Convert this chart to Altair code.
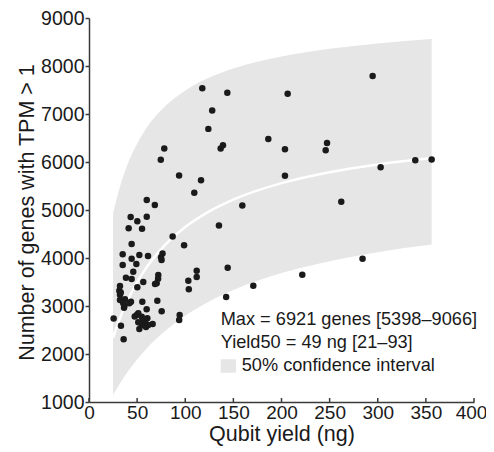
import altair as alt
import pandas as pd

# ---- scatter data (Qubit yield in ng, genes with TPM > 1) ----
qubit_ng = [117.7, 128, 124, 136.8, 139.2, 78.2, 74.6, 93.6, 116.4, 109.4,
            60, 68.4, 43.3, 60, 50.2, 41.2, 55.1, 86.9, 44.3, 98.8,
            143.7, 159.3, 135, 294.7, 206.4, 186.3, 203.6, 247.3, 245.9, 203.6,
            262.1, 284.2, 303, 339, 356, 144.1, 142.5, 170.7, 221.6,
            76.4, 74.8, 75.4, 111.9, 111.9, 103.2, 103.7, 72, 71.8, 70.3, 68.6,
            71, 75.5, 94.2, 93.7, 66.1,
            35, 52.3, 61.3, 44.3, 35, 49.2, 46, 38.4, 44.3, 56.4,
            50.2, 32.2, 31.5, 32.2, 37.4, 35.6, 43.6, 55.4, 36.4, 59.9,
            49.6, 33.2, 25.6, 36, 59.2, 52.3, 60.6, 61.6,
            51.2, 54.8, 58.2, 54.8, 51.2, 47.5, 56.5, 33, 32.2, 36.7, 41.9]
genes = [7535, 7075, 6690, 6280, 6348, 6280, 6048, 5720, 5622, 5357,
         5208, 5104, 4854, 4860, 4764, 4618, 4611, 4448, 4292, 4264,
         7444, 5095, 4677, 7792, 7423, 6479, 6264, 6396, 6244, 5712,
         5170, 3982, 5890, 6035, 6050, 3795, 3188, 3423, 3652,
         4095, 4015, 3960, 3732, 3604, 3527, 3348, 3646, 3570, 3473, 3458,
         3107, 2890, 2813, 2708, 2625,
         4077, 4063, 4042, 3986, 3854, 3875, 3715, 3590, 3563, 3500,
         3390, 3417, 3319, 3235, 3140, 3056, 3090, 3090, 2965, 2931,
         2813, 2590, 2740, 2306, 2563, 2521, 2744, 2604,
         2848, 2777, 2673, 2604, 2660, 2780, 2720, 3280, 3125, 3000, 3056]

# ---- fitted curve and 50% confidence band ----
fit_x = [25, 30, 35, 40, 50, 60, 75, 100, 125, 150, 200, 250, 300, 356]
fit_y = [2338, 2628, 2890, 3111, 3495, 3810, 4186, 4645, 4972, 5217, 5559, 5787, 5949, 6084]
ci_upper = [4930, 5330, 5670, 5950, 6380, 6720, 7080, 7490, 7760, 7950, 8200, 8360, 8470, 8560]
ci_lower = [1144, 1317, 1476, 1623, 1887, 2117, 2410, 2797, 3095, 3332, 3685, 3934, 4121, 4280]

x_ticks = [0, 50, 100, 150, 200, 250, 300, 350, 400]
y_ticks = [1000, 2000, 3000, 4000, 5000, 6000, 7000, 8000, 9000]

x_title = "Qubit yield (ng)"
y_title = "Number of genes with TPM > 1"
legend_lines = ["Max = 6921 genes [5398–9066]", "Yield50 = 49 ng [21–93]"]
ci_label = "50% confidence interval"

FONT = "Liberation Sans"
INK = "#1a1a1a"
AXC = "#3a3a3a"
W, H = 385, 384

pts = pd.DataFrame({"x": qubit_ng, "y": genes})
band_df = pd.DataFrame({"x": fit_x, "fit": fit_y, "upper": ci_upper, "lower": ci_lower})
xt_df = pd.DataFrame({"x": x_ticks})

xs = alt.Scale(domain=[0, 400], nice=False, zero=False)
ys = alt.Scale(domain=[1000, 9000], nice=False, zero=False)

x_axis = alt.Axis(values=x_ticks, format="d", title=x_title, grid=False, tickSize=0,
                  labelPadding=1, labelFontSize=19, labelFont=FONT, labelColor=INK,
                  labelFlush=False,
                  labelOffset={"condition": {"test": "datum.value >= 400", "value": -3}, "value": 0},
                  titleFontSize=21.5, titleFont=FONT, titleColor=INK,
                  titleFontWeight="normal", titleY=38, titleBaseline="alphabetic",
                  domainColor=AXC, domainWidth=1.5)
y_axis = alt.Axis(values=y_ticks, format="d", title=y_title, grid=False, tickSize=4,
                  tickColor=AXC, tickWidth=1.5, labelPadding=1, labelFontSize=19.5,
                  labelFont=FONT, labelColor=INK, labelFlush=False, titleFontSize=21.5,
                  titleFont=FONT, titleColor=INK, titleFontWeight="normal", titleX=-56,
                  titleY=194, titleAngle=270, titleBaseline="alphabetic",
                  titleAlign="center", domainColor=AXC, domainWidth=1.5)

band = alt.Chart(band_df).mark_area(color="#e6e6e7", interpolate="monotone").encode(
    x=alt.X("x:Q", scale=xs, axis=x_axis),
    y=alt.Y("upper:Q", scale=ys, axis=y_axis),
    y2="lower:Q",
)

fit = alt.Chart(band_df).mark_line(color="white", strokeWidth=2.5, interpolate="monotone").encode(
    x=alt.X("x:Q", scale=xs),
    y=alt.Y("fit:Q", scale=ys),
)

dots = alt.Chart(pts).mark_circle(color=INK, size=42, opacity=1).encode(
    x=alt.X("x:Q", scale=xs),
    y=alt.Y("y:Q", scale=ys),
)

xticks = alt.Chart(xt_df).mark_rule(color=AXC, strokeWidth=1.5).encode(
    x=alt.X("x:Q", scale=xs),
    y=alt.value(H),
    y2=alt.value(H - 4),
)

layers = [band, fit, dots, xticks]

line_y = [302, 325.3]
for txt, yy in zip(legend_lines, line_y):
    layers.append(
        alt.Chart(pd.DataFrame({"t": [txt]})).mark_text(
            align="left", baseline="middle", fontSize=18.2, font=FONT, color=INK
        ).encode(text="t:N", x=alt.value(131.7), y=alt.value(yy))
    )

layers.append(
    alt.Chart(pd.DataFrame({"t": [ci_label]})).mark_rect(color="#e6e6e7").encode(
        x=alt.value(131.7), x2=alt.value(147), y=alt.value(341.3), y2=alt.value(354.7)
    )
)
layers.append(
    alt.Chart(pd.DataFrame({"t": [ci_label]})).mark_text(
        align="left", baseline="middle", fontSize=18.2, font=FONT, color=INK
    ).encode(text="t:N", x=alt.value(152.7), y=alt.value(348))
)

chart = alt.layer(*layers).properties(
    width=W, height=H,
    autosize=alt.AutoSizeParams(type="none"),
    padding={"left": 81, "top": 10, "right": 12, "bottom": 44},
    background="white",
).configure_view(stroke=None)

chart.save("out.html", embed_options={"renderer": "svg", "actions": False})
